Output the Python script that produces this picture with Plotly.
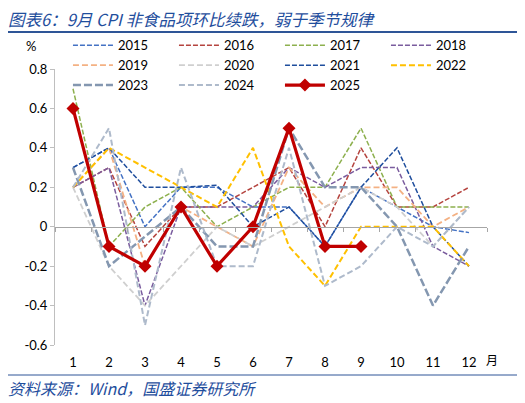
import plotly.graph_objects as go

months = list(range(1, 13))
month_labels = [str(m) for m in months]
y_ticks = [-0.6, -0.4, -0.2, 0.0, 0.2, 0.4, 0.6, 0.8]
y_tick_labels = ["-0.6", "-0.4", "-0.2", "0", "0.2", "0.4", "0.6", "0.8"]

s2015 = [0.3, 0.4, 0.0, 0.2, 0.2, 0.1, 0.1, -0.1, 0.2, 0.1, 0.0, -0.03]
s2016 = [0.2, 0.3, -0.1, 0.1, 0.1, 0.2, 0.3, 0.0, 0.4, 0.1, 0.1, 0.2]
s2017 = [0.7, -0.1, 0.1, 0.2, 0.0, 0.1, 0.2, 0.2, 0.5, 0.1, 0.1, 0.1]
s2018 = [0.2, 0.3, -0.4, 0.1, 0.1, 0.1, 0.3, 0.2, 0.3, 0.3, -0.1, -0.2]
s2019 = [0.2, 0.4, -0.2, 0.1, 0.0, -0.1, 0.3, 0.1, 0.2, 0.2, 0.0, 0.1]
s2020 = [0.2, -0.2, -0.4, -0.2, 0.0, -0.1, 0.0, 0.1, 0.2, 0.1, -0.1, 0.1]
s2021 = [0.3, 0.4, 0.2, 0.2, 0.21, 0.0, 0.1, -0.1, 0.2, 0.4, 0.0, -0.2]
s2022 = [0.2, 0.4, 0.3, 0.2, 0.1, 0.4, -0.1, -0.3, 0.0, 0.0, 0.0, -0.2]
s2023 = [0.3, -0.2, -0.05, 0.1, -0.1, -0.1, 0.5, 0.2, 0.2, 0.0, -0.4, -0.1]
s2024 = [0.2, 0.5, -0.5, 0.3, -0.2, -0.2, 0.4, -0.3, -0.2, 0.0, -0.1, 0.1]
s2025 = [0.6, -0.1, -0.2, 0.1, -0.2, 0.0, 0.5, -0.1, -0.1]

series = [
    ("2015", s2015, "#4472C4", 1.5, "5px,2px"),
    ("2016", s2016, "#B5443F", 1.5, "5px,2px"),
    ("2017", s2017, "#8DB04E", 1.5, "5px,2px"),
    ("2018", s2018, "#7A5C9E", 1.5, "5px,2px"),
    ("2019", s2019, "#F4B183", 1.8, "6px,3px"),
    ("2020", s2020, "#CFCFCF", 1.8, "6px,3px"),
    ("2021", s2021, "#1F4E9D", 1.5, "5px,2px"),
    ("2022", s2022, "#FFC000", 2.0, "6px,3px"),
    ("2023", s2023, "#8497B0", 2.5, "8px,3px"),
    ("2024", s2024, "#AEBACB", 2.0, "6px,3px"),
]

fig = go.Figure()
for name, vals, color, w, dash in series:
    fig.add_trace(go.Scatter(
        x=months[:len(vals)], y=vals, name=name, mode="lines",
        line=dict(color=color, width=w, dash=dash),
    ))
fig.add_trace(go.Scatter(
    x=months[:len(s2025)], y=s2025, name="2025", mode="lines+markers",
    line=dict(color="#C00000", width=3.2),
    marker=dict(symbol="diamond", size=10, color="#C00000"),
))
# axis carrying the category boundary ticks along the zero line
fig.add_trace(go.Scatter(x=[], y=[], xaxis="x2", showlegend=False, hoverinfo="skip"))

axis_font = dict(family="Lato, Liberation Sans, sans-serif", size=13, color="#000000")

# the page adds an 8px body margin, so the figure is 8px smaller on each axis
W, H = 517, 395

fig.update_layout(
    width=W, height=H,
    margin=dict(l=47, r=38, t=61, b=58, autoexpand=False),
    paper_bgcolor="white", plot_bgcolor="white",
    showlegend=True,
    legend=dict(
        orientation="h", x=0.03, y=1.14, xanchor="left", yanchor="top",
        entrywidth=51, entrywidthmode="pixels", tracegroupgap=0,
        font=dict(family="Lato, Liberation Sans, sans-serif", size=13, color="#000000"),
        itemwidth=40, bgcolor="rgba(0,0,0,0)",
    ),
    title=dict(
        text="<i>图表6：9月 CPI 非食品项环比续跌，弱于季节规律</i>",
        x=0, xref="container", xanchor="left",
        y=1 - 12 / H, yref="container", yanchor="middle",
        font=dict(family="Noto Sans CJK SC", size=16.5, color="#1F4E9D"),
    ),
    xaxis=dict(
        range=[0.5, 12.5], tickvals=months, ticktext=month_labels,
        showline=False, ticks="", showgrid=False, zeroline=False,
        tickfont=axis_font, ticklabelstandoff=8,
    ),
    xaxis2=dict(
        range=[0.5, 12.5], overlaying="x", anchor="free",
        position=(0 - y_ticks[0]) / (y_ticks[-1] - y_ticks[0]),
        side="bottom",
        tickvals=[m - 0.5 for m in months] + [12.5],
        showticklabels=False, ticks="outside", ticklen=4, tickcolor="#A6A6A6",
        showline=True, linecolor="#A6A6A6", linewidth=1.2, showgrid=False, zeroline=False,
    ),
    yaxis=dict(
        range=[y_ticks[0], y_ticks[-1]], tickvals=y_ticks, ticktext=y_tick_labels,
        showline=True, linecolor="#BFBFBF", linewidth=1, ticks="outside", ticklen=4,
        tickcolor="#BFBFBF", showgrid=False, zeroline=False, tickfont=axis_font,
    ),
    shapes=[
        dict(type="line", xref="paper", yref="paper",
             x0=(5 - 55) / 432, x1=(520 - 55) / 432,
             y0=(345 - 32) / 276, y1=(345 - 32) / 276,
             line=dict(color="#2E5597", width=2)),
        dict(type="line", xref="paper", yref="paper",
             x0=(5 - 55) / 432, x1=(520 - 55) / 432,
             y0=(345 - 375) / 276, y1=(345 - 375) / 276,
             line=dict(color="#2E5597", width=1)),
    ],
    annotations=[
        dict(text="%", xref="paper", yref="paper", x=(31 - 55) / 432, y=(345 - 46) / 276,
             showarrow=False, xanchor="center", yanchor="middle", font=axis_font),
        dict(text="月", xref="paper", yref="paper", x=(492 - 55) / 432, y=(345 - 359) / 276,
             showarrow=False, xanchor="center", yanchor="middle",
             font=dict(family="Noto Sans CJK SC", size=12, color="#000000")),
        dict(text="<i>资料来源：Wind，国盛证券研究所</i>", xref="paper", yref="paper",
             x=(6 - 55) / 432, y=(345 - 388) / 276, showarrow=False,
             xanchor="left", yanchor="middle",
             font=dict(family="Noto Sans CJK SC", size=16, color="#1F4E9D")),
    ],
)

fig.write_html("out.html")
